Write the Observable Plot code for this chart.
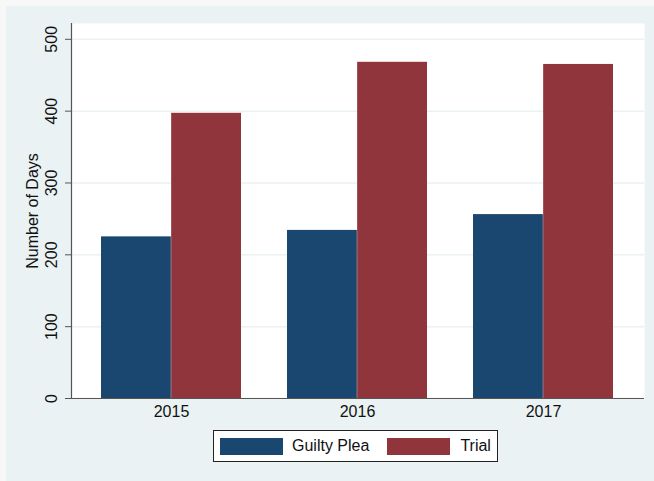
<!DOCTYPE html>
<html>
<head>
<meta charset="utf-8">
<script src="https://cdn.jsdelivr.net/npm/d3@7"></script>
<script src="https://cdn.jsdelivr.net/npm/@observablehq/plot@0.6"></script>
<style>
  html, body { margin: 0; padding: 0; }
  body { background: #f8f8f8; width: 654px; height: 481px; overflow: hidden; font-family: "Liberation Sans", Arial, Helvetica, sans-serif; }
  #panel { position: absolute; left: 6px; top: 6px; width: 648px; height: 475px; background: #eaf2f3; }
  #panel svg { display: block; background: transparent; }
  #legend { position: absolute; left: 207px; top: 424px; height: 32px; box-sizing: border-box; border: 1px solid #222; background: #fff;
            display: flex; align-items: center; padding: 0 6px; font-size: 16px; color: #111; }
  #legend .sw { width: 63px; height: 17px; }
  #legend .lab1 { margin-left: 9px; margin-right: 18px; }
  #legend .lab2 { margin-left: 10px; }
</style>
</head>
<body>
<div id="panel"></div>
<script>
const years = ["2015", "2016", "2017"];
const series = ["Guilty Plea", "Trial"];
const guiltyPlea = [225, 234, 256];
const trial = [397, 468, 465];
const yTicks = [0, 100, 200, 300, 400, 500];
const yLabel = "Number of Days";
const colors = ["#1a476f", "#90353b"];

const gpData = years.map((y, i) => ({year: y, series: series[0], value: guiltyPlea[i]}));
const trData = years.map((y, i) => ({year: y, series: series[1], value: trial[i]}));

const W = 648, H = 475, mL = 65, mR = 10, mT = 17, mB = 83;
const padIn = 0.247, padOut = 0.161;
const step = (W - mL - mR) / (years.length - padIn + 2 * padOut);
const half = step * (1 - padIn) / 2;

const chart = Plot.plot({
  width: W, height: H,
  marginLeft: mL, marginRight: mR, marginTop: mT, marginBottom: mB,
  style: {fontFamily: '"Liberation Sans", Arial, Helvetica, sans-serif', fontSize: "16px", color: "#111", background: "transparent"},
  x: {domain: years, paddingInner: padIn, paddingOuter: padOut, axis: null},
  y: {domain: [0, 522], axis: null},
  marks: [
    Plot.frame({fill: "#ffffff", stroke: null}),
    Plot.gridY(yTicks, {stroke: "#eaf2f3", strokeOpacity: 1, strokeWidth: 1.5}),
    Plot.barY(gpData, {x: "year", y: "value", fill: colors[0], insetRight: half}),
    Plot.barY(trData, {x: "year", y: "value", fill: colors[1], insetLeft: half}),
    Plot.ruleY([0], {stroke: "#555", strokeWidth: 1.2}),
    Plot.frame({anchor: "left", stroke: "#555", strokeWidth: 1.2}),
    Plot.axisY({ticks: yTicks, tickSize: 6, tickPadding: 9, tickRotate: -90, fontSize: 16, stroke: "#555", label: null}),
    Plot.text([yLabel], {text: d => d, frameAnchor: "left", textAnchor: "middle", lineAnchor: "middle", dx: -39, rotate: -90, fontSize: 16, fill: "#111"}),
    Plot.axisX({tickSize: 0, tickPadding: 7, fontSize: 16, label: null})
  ]
});
document.getElementById("panel").appendChild(chart);

const legend = document.createElement("div");
legend.id = "legend";
legend.innerHTML =
  `<div class="sw" style="background:${colors[0]}"></div><span class="lab1">${series[0]}</span>` +
  `<div class="sw" style="background:${colors[1]}"></div><span class="lab2">${series[1]}</span>`;
document.getElementById("panel").appendChild(legend);
</script>
</body>
</html>
